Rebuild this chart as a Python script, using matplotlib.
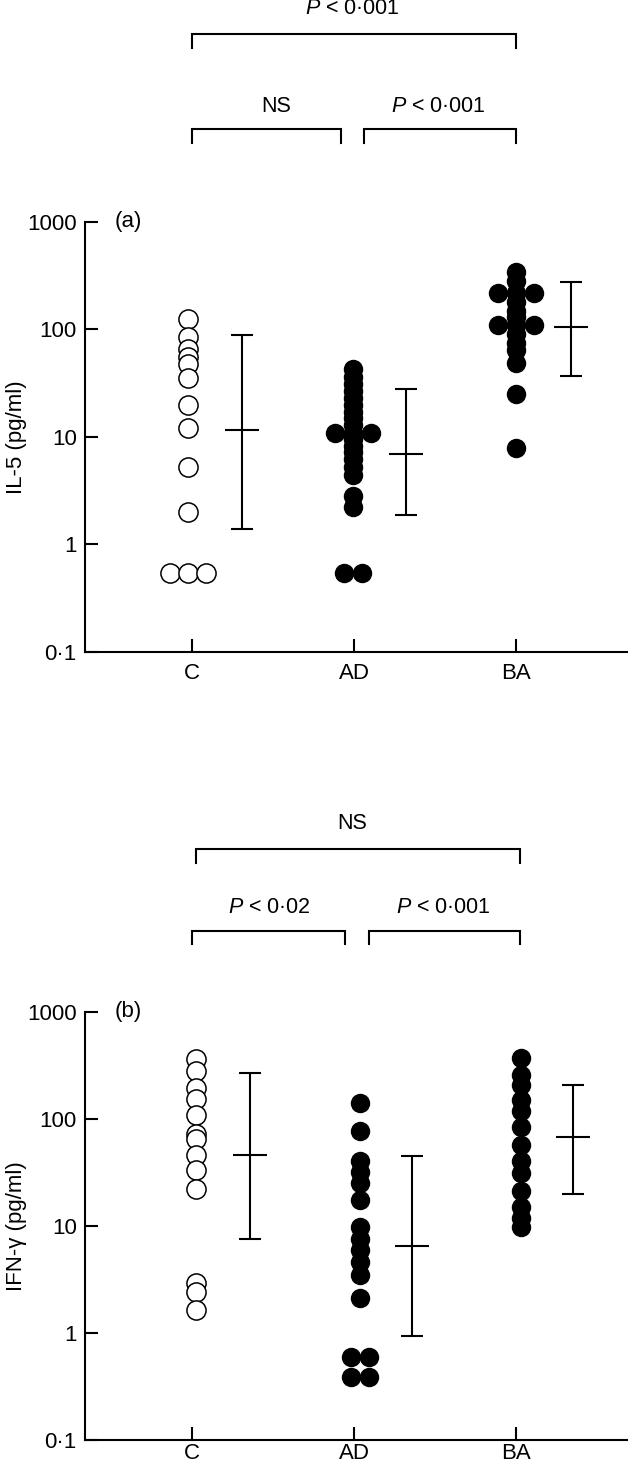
import numpy as np
import matplotlib
matplotlib.use("Agg")
import matplotlib.pyplot as plt

plt.rcParams['font.family'] = ['Liberation Sans', 'DejaVu Sans']
plt.rcParams['mathtext.fontset'] = 'custom'
plt.rcParams['mathtext.rm'] = 'Liberation Sans'
plt.rcParams['mathtext.it'] = 'Liberation Sans:italic'

groups = ['C', 'AD', 'BA']

# (a) IL-5, pg/ml
il5_c = [125, 85, 66, 55, 48, 35, 20, 12, 5.3, 2.0, 0.54, 0.54, 0.54]
il5_ad = [43, 36, 31, 27, 23, 20, 17, 15, 13, 11, 11, 11, 9.5, 8.3, 7.2,
          6.2, 5.3, 4.4, 2.8, 2.25, 0.54, 0.54]
il5_ba = [340, 280, 220, 220, 220, 180, 150, 130, 110, 110, 110, 90, 75,
          64, 49, 25, 7.9]
il5_mean = [11.7, 7.0, 105]
il5_low = [1.38, 1.87, 37]
il5_high = [88, 27.8, 275]

# (b) IFN-gamma, pg/ml
ifn_c = [360, 281, 193, 152, 108, 72, 64, 46, 33, 22, 2.9, 2.4, 1.64]
ifn_ad = [140, 77, 40, 32, 25, 17.5, 9.8, 7.5, 6.0, 4.6, 3.5, 2.1,
          0.6, 0.6, 0.39, 0.39]
ifn_ba = [367, 256, 207, 150, 117, 84, 57, 40, 31, 21, 15, 11.8, 9.8]
ifn_mean = [46, 6.5, 68]
ifn_low = [7.5, 0.94, 19.7]
ifn_high = [266, 45, 205]

yticks = [0.1, 1, 10, 100, 1000]
ytick_labels = ['0·1', '1', '10', '100', '1000']


def spread(values, step=0.11):
    """x offsets so that equal values sit side by side"""
    values = np.asarray(values)
    dx = np.zeros(len(values))
    for v in np.unique(values):
        idx = np.where(values == v)[0]
        n = len(idx)
        dx[idx] = (np.arange(n) - (n - 1) / 2) * step
    return dx


def bracket(ax, x0, x1, y, depth):
    tr = ax.get_xaxis_transform()
    ax.plot([x0, x0, x1, x1], [y - depth, y, y, y - depth], color='black',
            lw=1.5, transform=tr, clip_on=False, solid_joinstyle='miter')


def panel(ax, data, means, lows, highs, col_shift, bar_x, ylabel, tag,
          brackets, xpad):
    for i, vals in enumerate(data):
        x = i + 1 + col_shift[i] + spread(vals)
        if i == 0:
            ax.plot(x, vals, 'o', ms=13.8, mfc='white', mec='black', mew=1.1,
                    ls='none', clip_on=False)
        else:
            ax.plot(x, vals, 'o', ms=14, mfc='black', mec='black', mew=0,
                    ls='none', clip_on=False)
    means = np.array(means)
    yerr = [means - np.array(lows), np.array(highs) - means]
    ax.errorbar(bar_x, means, yerr=yerr, fmt='_', color='black', ms=24,
                mew=1.5, elinewidth=1.5, capsize=8, capthick=1.5)

    ax.set_yscale('log')
    ax.set_ylim(0.1, 1000)
    ax.set_xlim(0.34, 3.69)
    ax.set_yticks(yticks)
    ax.set_yticklabels(ytick_labels)
    ax.minorticks_off()
    ax.set_xticks([1, 2, 3])
    ax.set_xticklabels(groups)
    for s in ['top', 'right']:
        ax.spines[s].set_visible(False)
    for s in ['left', 'bottom']:
        ax.spines[s].set_linewidth(1.5)
    ax.tick_params(direction='in', length=9.5, width=1.5, labelsize=16)
    ax.tick_params(axis='y', pad=6)
    ax.tick_params(axis='x', pad=xpad)
    ax.set_ylabel(ylabel, fontsize=16)
    ax.yaxis.set_label_coords(-0.106, 0.5)
    ax.text(0.605, 1000, tag, fontsize=16, ha='center', va='center')

    tr = ax.get_xaxis_transform()
    for x0, x1, y, depth, label, tx, ty in brackets:
        bracket(ax, x0, x1, y, depth)
        ax.text(tx, ty, label, fontsize=15.5, ha='center', va='center',
                transform=tr)


fig = plt.figure(figsize=(6.28, 14.68), dpi=100)
ax_a = fig.add_axes([0.1354, 0.5559, 0.8646, 0.2929])
ax_b = fig.add_axes([0.1354, 0.01907, 0.8646, 0.2918])

p001 = r'$\it{P}$ < 0·001'
p002 = r'$\it{P}$ < 0·02'

panel(ax_a, [il5_c, il5_ad, il5_ba], il5_mean, il5_low, il5_high,
      [-0.025, -0.005, 0.0], [1.31, 2.32, 3.34], 'IL-5 (pg/ml)', '(a)',
      [(1.0, 3.0, 1.438, 0.033, p001, 1.99, 1.497),
       (1.0, 1.92, 1.2156, 0.033, 'NS', 1.52, 1.268),
       (2.06, 3.0, 1.2156, 0.033, p001, 2.52, 1.268)], 8)

panel(ax_b, [ifn_c, ifn_ad, ifn_ba], ifn_mean, ifn_low, ifn_high,
      [0.025, 0.035, 0.03], [1.36, 2.36, 3.35], 'IFN-γ (pg/ml)', '(b)',
      [(1.025, 3.025, 1.380, 0.032, 'NS', 1.99, 1.440),
       (1.0, 1.945, 1.189, 0.031, p002, 1.48, 1.243),
       (2.09, 3.025, 1.189, 0.031, p001, 2.55, 1.243)], 2.5)

fig.savefig('out.png', dpi=100)
